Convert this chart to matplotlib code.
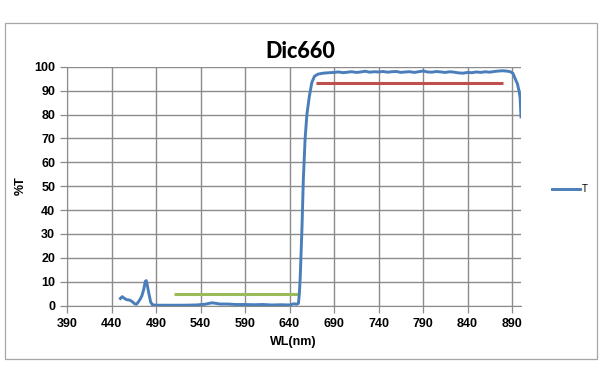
import matplotlib.pyplot as plt
from matplotlib.patches import Rectangle

wl = [450, 452, 454, 457, 460, 463, 466, 468, 470, 472, 474, 476, 478, 479, 480,
      482, 484, 486, 490, 500, 520, 535, 545, 550, 553, 557, 562, 570, 580, 590,
      600, 610, 620, 630, 640, 645, 648, 650, 651, 652, 654, 655.5, 657.5, 659.5,
      662, 665, 668, 672, 678, 685, 690, 695, 700, 705, 710, 715, 720, 725, 730,
      735, 740, 745, 750, 755, 760, 765, 770, 775, 780, 785, 790, 795, 800, 805,
      810, 815, 820, 825, 830, 835, 840, 845, 850, 855, 860, 865, 870, 875, 880,
      885, 888, 891, 894, 896, 898, 899, 900]
T = [3.0, 3.8, 3.2, 2.5, 2.4, 1.8, 0.8, 0.6, 1.5, 2.6, 4.0, 6.5, 10.2, 10.5, 9.0,
     5.0, 1.5, 0.4, 0.2, 0.2, 0.2, 0.3, 0.6, 1.0, 1.2, 1.0, 0.7, 0.7, 0.5, 0.5,
     0.4, 0.5, 0.3, 0.4, 0.3, 0.8, 0.6, 1.0, 5.0, 12.0, 33.0, 53.0, 70.0, 80.0,
     87.0, 93.4, 96.0, 96.9, 97.3, 97.5, 97.6, 97.8, 97.5, 97.7, 97.9, 97.6, 97.8, 98.1, 97.7,
     97.9, 97.8, 98.0, 97.7, 97.9, 98.0, 97.6, 97.8, 97.9, 97.6, 97.9, 98.2, 97.8, 97.7, 98.0,
     97.8, 97.6, 97.9, 97.7, 97.4, 97.3, 97.6, 97.5, 97.8, 97.6, 97.9, 97.7, 98.0, 98.2, 98.3,
     98.1, 97.9, 97.2, 94.5, 92.8, 89.5, 87.0, 79.0]

# spec lines
block_wl = [510, 650]
block_T = [5, 5]
pass_wl = [670, 880]
pass_T = [93, 93]

xticks = [390, 440, 490, 540, 590, 640, 690, 740, 790, 840, 890]
yticks = [0, 10, 20, 30, 40, 50, 60, 70, 80, 90, 100]

fig = plt.figure(figsize=(6, 3.83), dpi=100)
fig.patches.append(Rectangle((4.5 / 600, 1 - 359 / 383), 592 / 600, 336 / 383,
                             transform=fig.transFigure, fill=False,
                             edgecolor="#a6a6a6", linewidth=0.9))
ax = fig.add_axes([67 / 600, 77.3 / 383, 454 / 600, 239 / 383])

ax.plot(block_wl, block_T, color="#9bbb59", linewidth=2.2, solid_capstyle="butt")
ax.plot(pass_wl, pass_T, color="#c0504d", linewidth=2.2, solid_capstyle="butt")
ax.plot(wl, T, color="#4a7ebb", linewidth=2.1, label="T", zorder=3)

ax.set_xlim(390, 900)
ax.set_ylim(0, 100)
ax.set_xticks(xticks)
ax.set_yticks(yticks)
ax.grid(True, color="#8c8c8c", linewidth=1.0)
ax.set_axisbelow(True)
for s in ["top", "right"]:
    ax.spines[s].set_visible(False)
for s in ["left", "bottom"]:
    ax.spines[s].set_color("#8c8c8c")
ax.tick_params(colors="#8c8c8c", length=5, width=0.9, labelcolor="black")
for lab in ax.get_xticklabels() + ax.get_yticklabels():
    lab.set_fontfamily("Liberation Sans")
    lab.set_fontweight("bold")
    lab.set_fontsize(9)

fig.text(300 / 600, 1 - 57.7 / 383, "Dic660", ha="center", va="baseline",
         fontfamily="Lato", fontweight="black", fontsize=15.5)
fig.text(293.5 / 600, 1 - 342 / 383, "WL(nm)", ha="center", va="center",
         fontfamily="Liberation Sans", fontweight="bold", fontsize=9)
fig.text(21 / 600, 1 - 186 / 383, "%T", ha="center", va="center", rotation=90,
         fontfamily="Liberation Sans", fontweight="bold", fontsize=9)

ax.legend(loc="center left", bbox_to_anchor=(552 / 600, 1 - 189 / 383),
          bbox_transform=fig.transFigure, frameon=False, borderpad=0,
          borderaxespad=0, handlelength=2.9, handletextpad=0.2,
          prop={"family": "Liberation Sans", "size": 7})

fig.savefig("out.png", dpi=100)
